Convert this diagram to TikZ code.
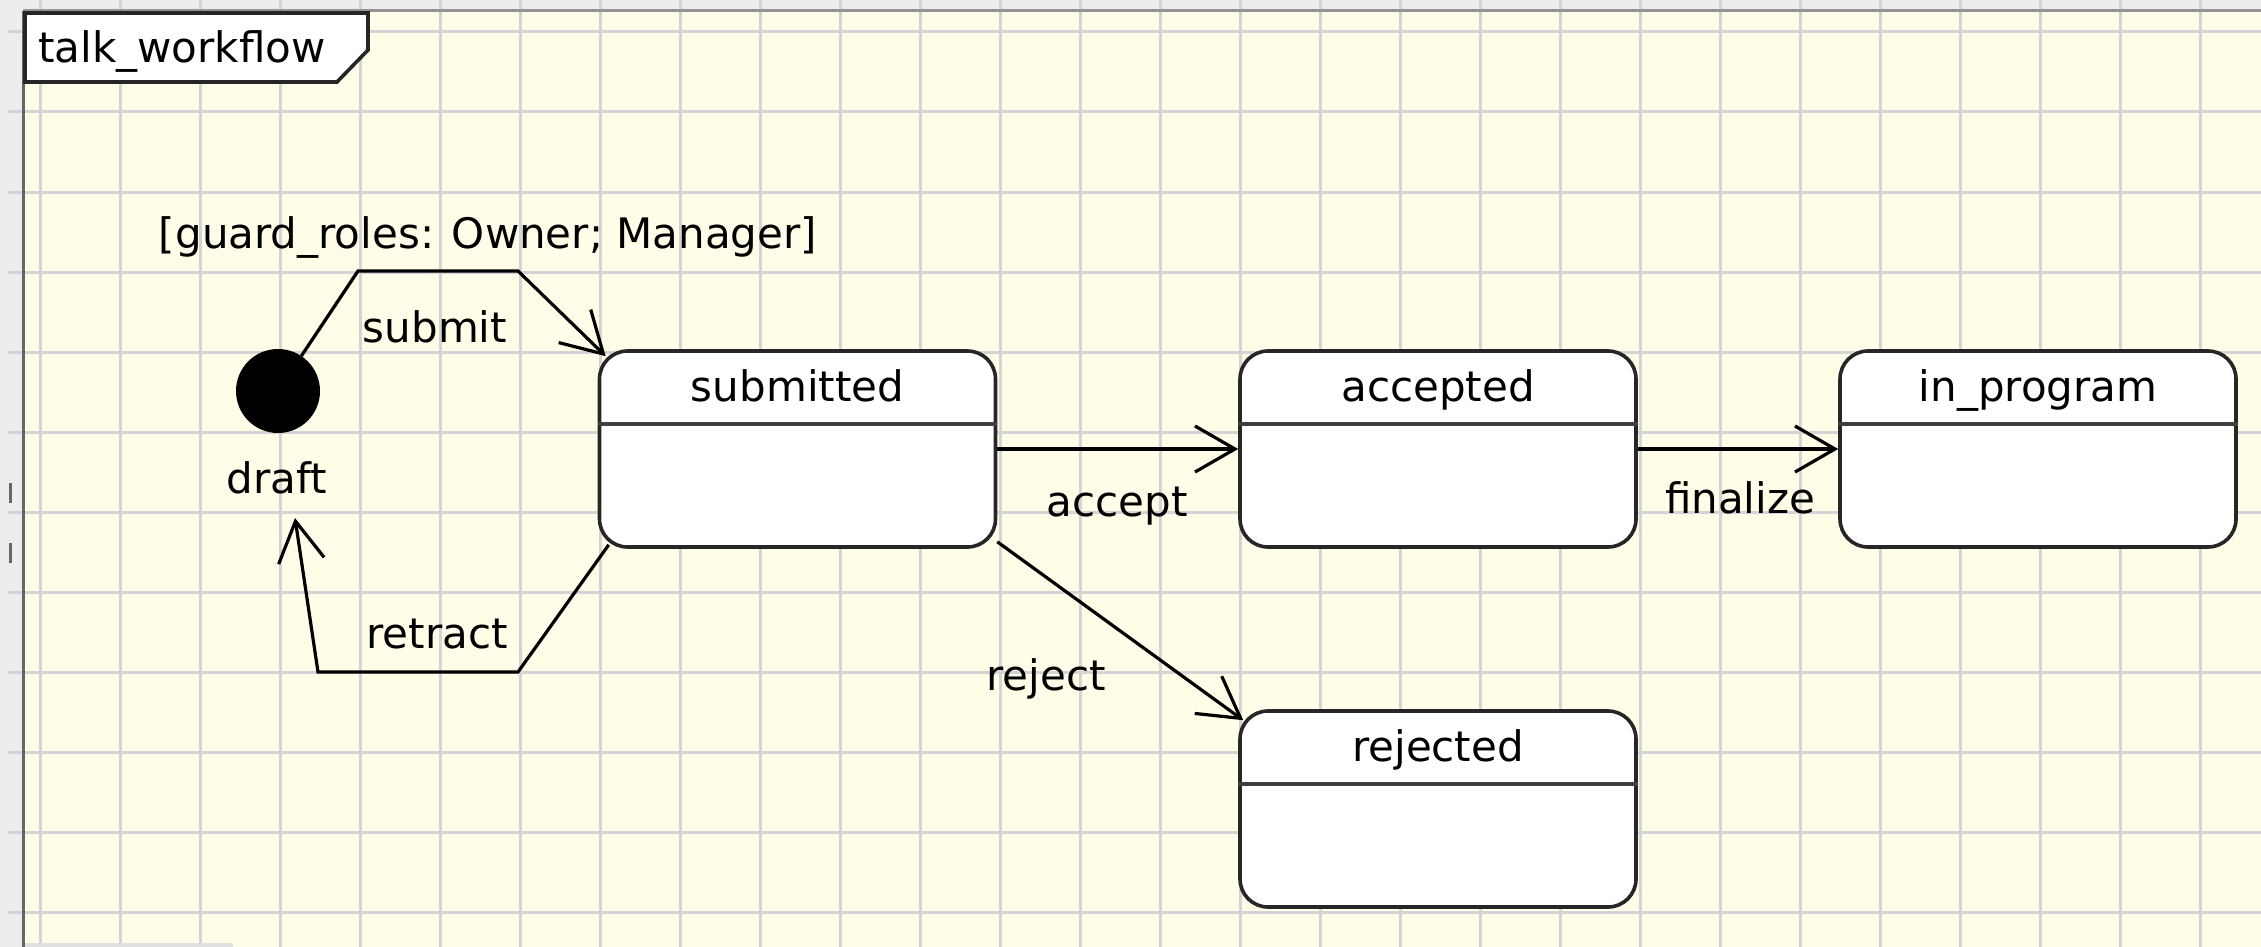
\documentclass[tikz,border=0pt]{standalone}
\usepackage{fontspec}
\setmainfont{DejaVu Sans}
\usetikzlibrary{arrows.meta}
\definecolor{paper}{HTML}{FFFDE8}
\definecolor{gridline}{HTML}{D4D4D4}
\definecolor{margin}{HTML}{EDEDED}
\definecolor{frameline}{HTML}{666666}

\begin{document}
\begin{tikzpicture}
[x=1pt,y=-1pt,
 every node/.style={font=\fontsize{42pt}{50pt}\selectfont,inner sep=0pt},
 stateBox/.style={draw=black!85,line width=3.6pt,fill=white,rounded corners=28pt,
   minimum width=396pt,minimum height=196pt},
 trans/.style={line width=3.2pt,-{Straight Barb[length=40pt,width=46pt]}},
 line join=miter]
\useasboundingbox (0,0) rectangle (2261,947);
%% background, grid and frame
\fill[paper] (0,0) rectangle (2261,947);
\fill[margin] (0,0) rectangle (22,947);
\fill[margin] (0,0) rectangle (2261,10);
\foreach \x in {40,120,...,2200}
  \draw[gridline,line width=3pt] (\x,0) -- (\x,947);
\foreach \y in {32,112,...,912}
  \draw[gridline,line width=3pt] (8,\y) -- (2261,\y);
\draw[frameline!70,line width=3pt] (23,11) -- (2261,11);
\draw[frameline,line width=3pt] (23,11) -- (23,947);
\fill[frameline] (9,483) rectangle (12,503);
\fill[frameline] (9,543) rectangle (12,563);
\fill[black!12] (25,943) rectangle (233,947);
\draw[black!85,line width=3.6pt,fill=white] (25,13) -- (368,13) -- (368,50) -- (337,82) -- (25,82) -- cycle;
\node[anchor=base west] (frameTitle) at (38,63) {talk\_workflow};
%% initial state
\node[circle,fill=black,minimum size=84pt] (init) at (278,391) {};
\node[anchor=base] (draftLabel) at (277,493) {draft};
%% states
\foreach \name/\statename/\x/\y in {
  submitted/submitted/797.5/449, accepted/accepted/1438/449,
  inprogram/in\_program/2038/449, rejected/rejected/1438/809}
{
  \node[stateBox] (\name) at (\x,\y) {};
  \node[anchor=base] (\name Title) at ([yshift=-52pt]\name.north) {\statename};
  \draw[black!75,line width=3.6pt] ([yshift=-75pt]\name.north west) -- ([yshift=-75pt]\name.north east);
}
%% bends and ends of the transitions
\coordinate (submitUp) at (358,271);
\coordinate (submitTop) at (518,271);
\coordinate (submitIn) at ([xshift=8pt,yshift=-7pt]submitted.north west);
\coordinate (retractOut) at ([xshift=11pt,yshift=4pt]submitted.south west);
\coordinate (retractLow) at (518,672);
\coordinate (retractLeft) at (318,672);
\coordinate (retractEnd) at (295,518);
\coordinate (rejectOut) at ([yshift=7pt]submitted.south east);
\coordinate (rejectIn) at ([xshift=5pt,yshift=-11pt]rejected.north west);
%% transitions
\draw[trans] (init) -- (submitUp) -- (submitTop) -- (submitIn);
\draw[trans] (retractOut) -- (retractLow) -- (retractLeft) -- (retractEnd);
\path
\foreach \startnode/\endnode in {
  submitted/accepted, accepted/inprogram, rejectOut/rejectIn}
{
  (\startnode) edge[trans] (\endnode)
};
%% transition labels
\foreach \labname/\labtext/\x/\y in {
  guardLabel/{[guard\_roles: Owner; Manager]}/488/248,
  submitLabel/submit/435/342, retractLabel/retract/437/648,
  acceptLabel/accept/1117/516, finalizeLabel/finalize/1740/513,
  rejectLabel/reject/1046/690}
{
  \node[anchor=base] (\labname) at (\x,\y) {\labtext};
}
\end{tikzpicture}
\end{document}
